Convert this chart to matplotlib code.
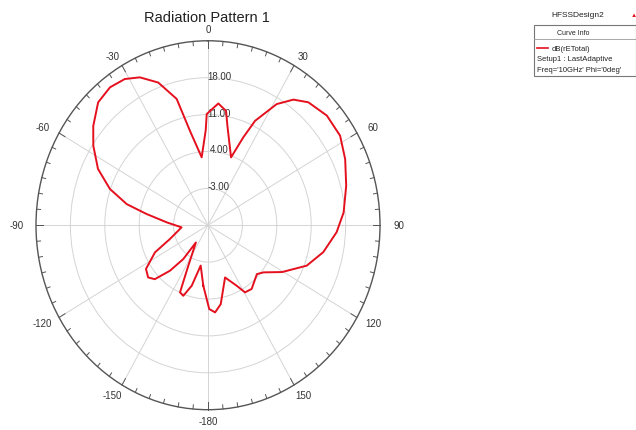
import matplotlib
matplotlib.use("Agg")
import matplotlib.pyplot as plt
import numpy as np
from matplotlib.patches import Rectangle

plt.rcParams['font.family'] = ['Liberation Sans', 'DejaVu Sans']

# angle (deg, clockwise from top) and gain (dB)
theta_deg = [-175.2, -169.0, -163.9, -159.4, -155.9, -152.5, -143.0, -141.9,
             -138.1, -133.4, -129.1, -123.3, -115.5, -108.7, -94.3, -86.3,
             -80.3, -76.4, -71.0, -64.5, -57.1, -51.1, -43.8, -37.3,
             -31.4, -26.3, -20.5, -14.9, -11.6, -5.7, -1.5, -0.7,
             5.2, 9.6, 11.8, 20.0, 23.3, 25.8, 31.3, 36.1,
             41.2, 49.3, 57.7, 65.8, 75.1, 85.0, 92.9, 102.3,
             110.9, 120.5, 128.4, 133.0, 143.7, 149.4, 153.0, 160.7,
             170.2, 175.0, 179.1]
gain_db = [1.5, -2.2, 1.95, 4.3, 3.95, -1.3, -5.9, -1.85,
           1.6, 4.9, 5.7, 5.1, 1.95, -1.8, -4.6, -1.6,
           2.7, 7.0, 11.1, 14.8, 17.8, 20.0, 22.3, 22.9,
           22.5, 21.3, 18.9, 14.8, 8.3, 2.95, 8.0, 11.1,
           13.2, 12.0, 9.3, 3.7, 8.16, 12.0, 16.9, 19.5,
           21.0, 21.9, 21.8, 20.6, 19.1, 17.7, 16.2, 14.0,
           11.5, 7.5, 4.4, 3.6, 5.0, 4.8, 2.9, 0.5,
           5.2, 6.6, 5.9]

ring_values = [-3, 4, 11, 18]
ring_labels = ['-3.00', '4.00', '11.00', '18.00']
angle_ticks = [0, 30, 60, 90, 120, 150, 180, 210, 240, 270, 300, 330]
angle_labels = ['0', '30', '60', '90', '120', '150', '-180', '-150', '-120', '-90', '-60', '-30']
r_min, r_max = -10, 25

fig = plt.figure(figsize=(6.36, 4.31), dpi=100)
ax = fig.add_axes([0.0566, 0.0471, 0.5409, 0.856], projection='polar')
ax.set_aspect('auto')
ax.set_theta_zero_location('N')
ax.set_theta_direction(-1)
ax.set_rlim(r_min, r_max)

# close the curve
th = np.radians(theta_deg + [theta_deg[0]])
g = gain_db + [gain_db[0]]
ax.plot(th, g, color='#e5101e', lw=1.4, zorder=5)

ax.set_yticks(ring_values)
ax.set_yticklabels([])
ax.set_xticks(np.radians(angle_ticks))
ax.set_xticklabels([])
ax.tick_params(axis='x', length=0)
ax.grid(True, color='#d4d4d4', lw=0.7)
ax.spines['polar'].set_color('#555555')
ax.spines['polar'].set_linewidth(1.0)

# small ticks every 5 degrees on the outer ring, pointing inward
for a in np.arange(0, 360, 5):
    t = np.radians(a)
    dr = 1.4 if a % 30 == 0 else 0.8
    ax.plot([t, t], [r_max - dr, r_max], color='#555555', lw=0.7, clip_on=False)

# angle labels outside the ring
for a, lab in zip(angle_ticks, angle_labels):
    t = np.radians(a)
    ax.annotate(lab, xy=(t, r_max), xytext=(19 * np.sin(t), 11.5 * np.cos(t)),
                textcoords='offset pixels', ha='center', va='center',
                fontsize=7, color='#333333', annotation_clip=False)

for r, lab in zip(ring_values, ring_labels):
    ax.annotate(lab, xy=(0, r), xytext=(11, 2), textcoords='offset pixels',
                ha='center', va='center', fontsize=7, color='#333333')

fig.text(0.326, 0.958, 'Radiation Pattern 1', ha='center', va='center',
         fontsize=10.5, color='#222222')

# curve info box
fig.text(0.909, 0.965, 'HFSSDesign2', ha='center', va='center', fontsize=6, color='#222222')
fig.text(0.996, 0.965, '\u25b2', ha='center', va='center', fontsize=4.5, color='#e5101e')
fig.patches.append(Rectangle((0.843, 0.818), 0.16, 0.118, transform=fig.transFigure,
                             facecolor='#999999', edgecolor='none', zorder=1))
fig.patches.append(Rectangle((0.840, 0.822), 0.16, 0.118, transform=fig.transFigure,
                             facecolor='white', edgecolor='#777777', lw=0.8, zorder=2))
fig.lines.append(plt.Line2D([0.840, 1.0], [0.908, 0.908], transform=fig.transFigure,
                            color='#999999', lw=0.6, zorder=3))
fig.text(0.901, 0.922, 'Curve Info', ha='center', va='center', fontsize=5, color='#222222', zorder=4)
fig.lines.append(plt.Line2D([0.845, 0.862], [0.886, 0.886], transform=fig.transFigure,
                            color='#e5101e', lw=1.2, zorder=3))
fig.text(0.868, 0.886, 'dB(rETotal)', ha='left', va='center', fontsize=5.5, color='#222222', zorder=4)
fig.text(0.845, 0.861, 'Setup1 : LastAdaptive', ha='left', va='center', fontsize=5.5, color='#222222', zorder=4)
fig.text(0.845, 0.836, "Freq='10GHz' Phi='0deg'", ha='left', va='center', fontsize=5.5, color='#222222', zorder=4)

fig.savefig('out.png', dpi=100)
